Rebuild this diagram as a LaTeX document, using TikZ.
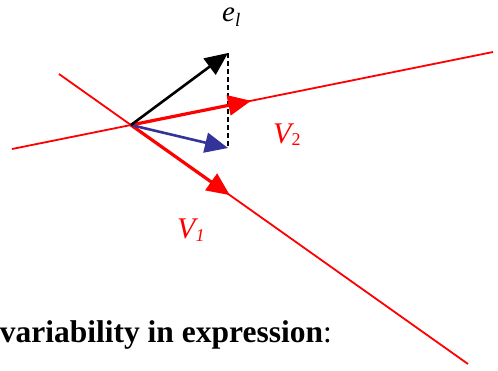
\documentclass[tikz,border=0pt]{standalone}
\usepackage{fontspec}
\setmainfont{Liberation Serif}
\usetikzlibrary{arrows.meta,calc}
\definecolor{vecblue}{RGB}{51,51,153}
\tikzset{
  axis/.style={red, line width=1.8pt},
  tri/.style={-{Triangle[length=23pt,width=20pt]}},
  redvec/.style={tri, red, line width=3.2pt},
  blackvec/.style={tri, black, line width=2.6pt},
  bluevec/.style={tri, vecblue, line width=2.6pt},
  proj/.style={black, line width=1.6pt, dash pattern=on 5pt off 3pt},
  lab/.style={inner sep=0pt, red, font=\fontsize{30}{32}\selectfont\itshape},
}
\begin{document}
\begin{tikzpicture}[x=1pt,y=-1pt]
\useasboundingbox (0,0) rectangle (498,370);
% lines
\coordinate (A1) at (59,74);
\coordinate (B1) at (468,364);
\coordinate (A2) at (12,149);
\coordinate (B2) at (493,52);
\draw[axis] (A1) -- (B1);
\draw[axis] (A2) -- (B2);
\coordinate (O) at (intersection of A1--B1 and A2--B2);
\coordinate (T1) at ($(A1)!(230,195)!(B1)$);
\coordinate (T2) at ($(A2)!(251,100)!(B2)$);
\coordinate (E) at (228,53);
\coordinate (P) at (228,148);
\draw[proj] (E) -- (P);
\draw[redvec] (O) -- (T1);
\draw[redvec] (O) -- (T2);
\draw[bluevec] (O) -- (P);
\draw[blackvec] (O) -- (E);
% labels
\node[anchor=base west, inner sep=0pt, font=\fontsize{29}{31}\selectfont\itshape] (el) at (222,21) {e\raisebox{-5pt}{\fontsize{19}{21}\selectfont l}};
\node[lab, anchor=base west] (v2) at (273,143) {V\raisebox{-2.5pt}{\fontsize{18}{20}\selectfont\upshape 2}};
\node[lab, anchor=base west] (v1) at (177,238) {V\raisebox{-3.5pt}{\fontsize{18}{20}\selectfont 1}};
\node[anchor=base east, inner sep=0pt, font=\fontsize{31.5}{33}\selectfont] (txt) at (332,342) {\textbf{variability in expression}:};
\end{tikzpicture}
\end{document}
